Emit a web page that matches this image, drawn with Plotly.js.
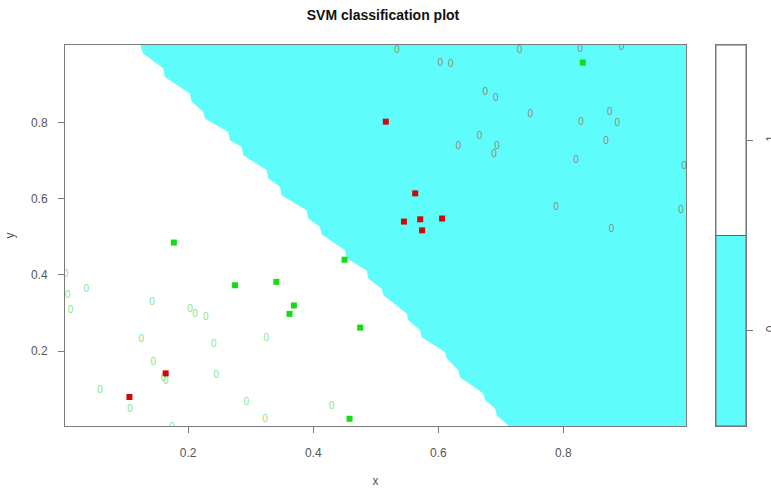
<!DOCTYPE html>
<html>
<head>
<meta charset="utf-8">
<script src="https://cdn.plot.ly/plotly-3.0.1.min.js"></script>
<style>html,body{margin:0;padding:0;background:#fff;}#chart{width:771px;height:488px;}</style>
</head>
<body>
<div id="chart"></div>
<script>
// ---- data ----
var greenDataX = [0.004,0.007,0.012,0.037,0.142,0.203,0.211,0.228,0.125,0.241,0.144,0.160,0.164,0.245,0.059,0.107,0.293,0.174,0.325,0.429,0.323];
var greenDataY = [0.400,0.347,0.307,0.362,0.329,0.309,0.296,0.288,0.232,0.217,0.170,0.128,0.122,0.137,0.098,0.048,0.065,0.001,0.233,0.056,0.021];

var redDataX = [0.534,0.730,0.827,0.893,0.603,0.620,0.675,0.692,0.747,0.874,0.828,0.886,0.868,0.666,0.632,0.694,0.689,0.820,0.993,0.788,0.988,0.877];
var redDataY = [0.989,0.988,0.991,0.997,0.955,0.952,0.879,0.862,0.822,0.825,0.800,0.798,0.751,0.762,0.738,0.738,0.717,0.701,0.685,0.576,0.570,0.520];

var greenSvX = [0.177,0.275,0.341,0.369,0.362,0.450,0.475,0.458,0.831];
var greenSvY = [0.485,0.373,0.382,0.320,0.298,0.440,0.262,0.023,0.957];

var redSvX = [0.106,0.164,0.516,0.563,0.545,0.571,0.574,0.606];
var redSvY = [0.080,0.142,0.802,0.614,0.540,0.546,0.517,0.548];

// decision region (cyan) outline
var boundaryX = [0.1227,0.1243,0.1280,0.1600,0.1627,0.2027,0.2054,0.2240,0.2267,0.2640,0.2667,0.2854,0.2880,0.3254,0.3280,0.3467,0.3494,0.3894,0.3920,0.4107,0.4134,0.4507,0.4534,0.4854,0.4880,0.5094,0.5122,0.5494,0.5520,0.5707,0.5734,0.6107,0.6134,0.6320,0.6347,0.6720,0.6747,0.6907,0.6934,0.7243,1.01,1.01];
var boundaryY = [1.016,0.997,0.981,0.942,0.919,0.876,0.854,0.828,0.810,0.775,0.753,0.736,0.714,0.675,0.653,0.631,0.609,0.570,0.548,0.526,0.507,0.465,0.444,0.412,0.391,0.364,0.347,0.299,0.281,0.255,0.237,0.198,0.181,0.150,0.132,0.089,0.072,0.050,0.032,-0.013,-0.013,1.016];

var classLabels = ['0', '1'];
var classColors = ['#5ffcfc', '#ffffff'];
var xTicks = [0.2, 0.4, 0.6, 0.8];
var yTicks = [0.2, 0.4, 0.6, 0.8];

var CYAN = '#5ffcfc';
var AXC = '#7a7a7a';
var FONT = 'Liberation Sans, Arial, sans-serif';

var traces = [
  {x: boundaryX, y: boundaryY, type: 'scatter', mode: 'lines', fill: 'toself',
   fillcolor: CYAN, line: {width: 0, color: CYAN}, hoverinfo: 'skip'},
  {x: greenDataX, y: greenDataY, type: 'scatter', mode: 'text', text: greenDataX.map(function(){return '0';}),
   textposition: 'middle center', textfont: {family: FONT, size: 10, color: '#7fe87f'}},
  {x: redDataX, y: redDataY, type: 'scatter', mode: 'text', text: redDataX.map(function(){return '0';}),
   textposition: 'middle center', textfont: {family: FONT, size: 10, color: '#928a6c'}},
  {x: greenSvX, y: greenSvY, type: 'scatter', mode: 'markers',
   marker: {symbol: 'square', size: 6, color: '#12dc12'}},
  {x: redSvX, y: redSvY, type: 'scatter', mode: 'markers',
   marker: {symbol: 'square', size: 6, color: '#cc0a0a'}},
  {x: [0, 0], y: [1, 1], base: [0, 1], type: 'bar', xaxis: 'x2', yaxis: 'y2', width: 1,
   marker: {color: classColors, line: {color: '#666', width: 1}}}
];

var tickfont = {family: FONT, size: 12, color: '#555'};

var layout = {
  width: 771, height: 488,
  margin: {l: 65, r: 25, t: 45, b: 62},
  paper_bgcolor: '#fff', plot_bgcolor: '#fff',
  showlegend: false, hovermode: false,
  title: {text: 'SVM classification plot', font: {family: FONT, size: 14, color: '#111', weight: 'bold'},
          x: 0.467, xref: 'paper', xanchor: 'center', y: 0.969, yref: 'container', yanchor: 'middle'},
  xaxis: {domain: [0, 0.9119], range: [0.003, 0.996], tickmode: 'array', tickvals: xTicks,
          ticktext: xTicks.map(function(v){return v.toFixed(1);}),
          showline: true, mirror: true, linecolor: AXC, linewidth: 1, ticks: 'outside', ticklen: 6,
          tickcolor: AXC, showgrid: false, zeroline: false, tickfont: tickfont, ticklabelstandoff: 10,
          title: {text: 'x', font: {family: FONT, size: 12, color: '#555'}, standoff: 19}},
  yaxis: {domain: [0, 1], range: [0.004, 1.003], tickmode: 'array', tickvals: yTicks,
          ticktext: yTicks.map(function(v){return v.toFixed(1);}),
          showline: true, mirror: true, linecolor: AXC, linewidth: 1, ticks: 'outside', ticklen: 6,
          tickcolor: AXC, showgrid: false, zeroline: false, tickfont: tickfont, ticklabelstandoff: 8,
          title: {text: 'y', font: {family: FONT, size: 12, color: '#555'}, standoff: 13}},
  xaxis2: {domain: [0.9559, 1], anchor: 'y2', range: [-0.5, 0.5], showticklabels: false, ticks: '',
           showline: true, mirror: true, linecolor: AXC, showgrid: false, zeroline: false},
  yaxis2: {domain: [0, 1], anchor: 'x2', side: 'right', range: [0, 2], tickmode: 'array',
           tickvals: [0.5, 1.5], ticktext: classLabels, ticks: 'outside', ticklen: 6, tickcolor: AXC,
           tickangle: -90, showline: true, mirror: true, linecolor: AXC, showgrid: false, zeroline: false,
           tickfont: tickfont, ticklabelstandoff: 8}
};

Plotly.newPlot('chart', traces, layout, {displayModeBar: false, staticPlot: true});
</script>
</body>
</html>
